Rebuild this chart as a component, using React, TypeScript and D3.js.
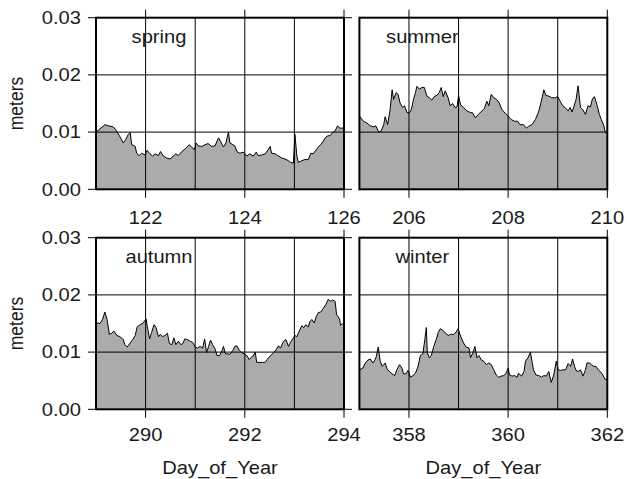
import React from "react";
import * as d3 from "d3";

const seasonNames = ["spring", "summer", "autumn", "winter"];

const springDays = [121.00,121.18,121.25,121.35,121.40,121.47,121.55,121.60,121.65,121.69,121.72,121.79,121.82,121.87,121.92,121.99,122.03,122.09,122.14,122.19,122.26,122.30,122.36,122.42,122.49,122.56,122.61,122.66,122.73,122.79,122.88,122.93,122.98,123.02,123.06,123.13,123.20,123.26,123.33,123.40,123.47,123.51,123.57,123.62,123.67,123.70,123.76,123.80,123.84,123.90,123.97,124.04,124.10,124.17,124.23,124.27,124.34,124.41,124.47,124.51,124.54,124.61,124.68,124.74,124.81,124.88,124.92,124.98,125.01,125.05,125.08,125.15,125.21,125.28,125.33,125.38,125.44,125.49,125.53,125.58,125.62,125.66,125.72,125.77,125.82,125.87,125.91,125.95,126.00];
const springValues = [0.0100,0.0113,0.0111,0.0109,0.0104,0.0094,0.0081,0.0087,0.0096,0.0099,0.0078,0.0075,0.0063,0.0059,0.0063,0.0060,0.0068,0.0062,0.0058,0.0062,0.0059,0.0066,0.0058,0.0055,0.0053,0.0058,0.0062,0.0059,0.0066,0.0070,0.0078,0.0074,0.0069,0.0081,0.0076,0.0075,0.0078,0.0080,0.0075,0.0076,0.0090,0.0084,0.0074,0.0081,0.0100,0.0081,0.0078,0.0076,0.0066,0.0063,0.0065,0.0058,0.0062,0.0058,0.0065,0.0059,0.0060,0.0062,0.0069,0.0075,0.0063,0.0062,0.0058,0.0055,0.0053,0.0050,0.0047,0.0046,0.0096,0.0058,0.0047,0.0050,0.0052,0.0052,0.0063,0.0062,0.0069,0.0075,0.0078,0.0084,0.0090,0.0093,0.0094,0.0099,0.0102,0.0111,0.0107,0.0107,0.0107];

const summerDays = [205.00,205.08,205.15,205.22,205.29,205.33,205.39,205.44,205.49,205.52,205.57,205.62,205.66,205.69,205.74,205.78,205.82,205.87,205.91,205.96,206.01,206.05,206.09,206.13,206.16,206.21,206.26,206.31,206.36,206.41,206.46,206.52,206.56,206.61,206.65,206.69,206.73,206.79,206.83,206.88,206.93,206.97,207.00,207.04,207.10,207.17,207.24,207.28,207.34,207.40,207.47,207.52,207.57,207.61,207.66,207.71,207.77,207.82,207.87,207.94,207.99,208.06,208.13,208.19,208.24,208.31,208.37,208.41,208.48,208.55,208.62,208.67,208.72,208.76,208.82,208.88,208.95,209.00,209.05,209.10,209.15,209.21,209.25,209.29,209.32,209.37,209.41,209.46,209.50,209.56,209.61,209.66,209.70,209.74,209.79,209.84,209.88,209.93,209.96,210.00];
const summerValues = [0.0128,0.0119,0.0116,0.0111,0.0109,0.0111,0.0100,0.0102,0.0113,0.0127,0.0113,0.0140,0.0174,0.0157,0.0169,0.0166,0.0151,0.0143,0.0146,0.0134,0.0134,0.0140,0.0157,0.0169,0.0180,0.0175,0.0178,0.0178,0.0163,0.0160,0.0156,0.0163,0.0164,0.0169,0.0178,0.0162,0.0172,0.0160,0.0146,0.0150,0.0143,0.0144,0.0164,0.0148,0.0143,0.0137,0.0134,0.0134,0.0125,0.0131,0.0137,0.0141,0.0154,0.0146,0.0166,0.0160,0.0157,0.0151,0.0140,0.0133,0.0129,0.0122,0.0119,0.0119,0.0113,0.0113,0.0107,0.0110,0.0113,0.0122,0.0137,0.0154,0.0174,0.0164,0.0163,0.0160,0.0160,0.0162,0.0154,0.0146,0.0143,0.0137,0.0143,0.0135,0.0143,0.0157,0.0181,0.0143,0.0140,0.0131,0.0146,0.0144,0.0158,0.0162,0.0148,0.0131,0.0122,0.0111,0.0100,0.0096];

const autumnDays = [289.00,289.08,289.13,289.18,289.22,289.27,289.32,289.36,289.42,289.48,289.55,289.58,289.63,289.69,289.74,289.79,289.83,289.89,289.95,290.01,290.03,290.08,290.12,290.17,290.21,290.26,290.30,290.34,290.39,290.44,290.48,290.53,290.57,290.61,290.66,290.71,290.75,290.79,290.84,290.90,290.95,291.00,291.04,291.10,291.15,291.19,291.23,291.27,291.31,291.35,291.40,291.44,291.49,291.54,291.57,291.61,291.65,291.70,291.76,291.80,291.84,291.89,291.94,291.99,292.04,292.09,292.14,292.17,292.21,292.24,292.29,292.36,292.41,292.45,292.51,292.58,292.63,292.68,292.72,292.78,292.83,292.88,292.92,292.98,293.01,293.05,293.10,293.15,293.19,293.23,293.28,293.31,293.35,293.40,293.44,293.48,293.53,293.58,293.64,293.68,293.73,293.77,293.82,293.85,293.91,293.93,293.97,294.00];
const autumnValues = [0.0151,0.0150,0.0157,0.0170,0.0158,0.0131,0.0133,0.0137,0.0129,0.0127,0.0122,0.0113,0.0109,0.0116,0.0122,0.0129,0.0144,0.0148,0.0151,0.0158,0.0147,0.0123,0.0134,0.0148,0.0143,0.0127,0.0131,0.0127,0.0129,0.0133,0.0115,0.0113,0.0125,0.0113,0.0119,0.0113,0.0115,0.0123,0.0122,0.0119,0.0117,0.0109,0.0107,0.0110,0.0107,0.0123,0.0099,0.0110,0.0121,0.0113,0.0106,0.0094,0.0094,0.0102,0.0110,0.0097,0.0097,0.0096,0.0103,0.0110,0.0111,0.0103,0.0099,0.0097,0.0094,0.0087,0.0092,0.0093,0.0100,0.0082,0.0082,0.0082,0.0082,0.0087,0.0093,0.0099,0.0104,0.0111,0.0107,0.0119,0.0122,0.0110,0.0117,0.0125,0.0129,0.0127,0.0137,0.0146,0.0143,0.0148,0.0144,0.0153,0.0157,0.0151,0.0162,0.0169,0.0170,0.0176,0.0184,0.0192,0.0189,0.0191,0.0189,0.0166,0.0158,0.0147,0.0150,0.0150];

const winterDays = [357.00,357.07,357.12,357.17,357.22,357.27,357.31,357.34,357.38,357.42,357.46,357.49,357.52,357.56,357.61,357.66,357.71,357.76,357.81,357.86,357.89,357.94,357.98,358.03,358.08,358.13,358.18,358.23,358.28,358.32,358.35,358.37,358.41,358.45,358.50,358.55,358.59,358.63,358.68,358.73,358.79,358.84,358.90,358.95,358.99,359.04,359.10,359.15,359.21,359.24,359.29,359.33,359.37,359.41,359.46,359.51,359.56,359.61,359.66,359.71,359.76,359.81,359.86,359.91,359.96,360.00,360.03,360.08,360.13,360.18,360.21,360.27,360.32,360.35,360.40,360.45,360.48,360.51,360.56,360.62,360.67,360.72,360.77,360.82,360.87,360.92,360.97,361.01,361.06,361.10,361.16,361.21,361.26,361.30,361.34,361.37,361.41,361.46,361.51,361.56,361.59,361.64,361.68,361.73,361.77,361.82,361.86,361.91,361.95,362.00];
const winterValues = [0.0069,0.0072,0.0081,0.0086,0.0088,0.0081,0.0086,0.0092,0.0109,0.0084,0.0075,0.0078,0.0081,0.0070,0.0066,0.0062,0.0059,0.0070,0.0078,0.0072,0.0062,0.0062,0.0068,0.0056,0.0059,0.0063,0.0074,0.0094,0.0097,0.0122,0.0143,0.0099,0.0090,0.0094,0.0110,0.0122,0.0134,0.0141,0.0138,0.0134,0.0129,0.0131,0.0131,0.0135,0.0141,0.0128,0.0116,0.0109,0.0107,0.0090,0.0099,0.0110,0.0090,0.0094,0.0086,0.0084,0.0078,0.0081,0.0078,0.0069,0.0060,0.0056,0.0058,0.0059,0.0063,0.0072,0.0060,0.0058,0.0059,0.0056,0.0063,0.0058,0.0066,0.0084,0.0090,0.0100,0.0084,0.0069,0.0060,0.0059,0.0056,0.0059,0.0058,0.0066,0.0047,0.0060,0.0084,0.0069,0.0068,0.0069,0.0069,0.0080,0.0075,0.0088,0.0075,0.0068,0.0066,0.0069,0.0058,0.0069,0.0081,0.0081,0.0078,0.0075,0.0075,0.0069,0.0066,0.0060,0.0053,0.0052];

const dayDomains = [[121, 126], [205, 210], [289, 294], [357, 362]];
const yTicks = [0, 0.01, 0.02, 0.03];
const yTickLabels = ["0.00", "0.01", "0.02", "0.03"];
const xLabel = "Day_of_Year";
const yLabel = "meters";

const seriesDays = [springDays, summerDays, autumnDays, winterDays];
const seriesValues = [springValues, summerValues, autumnValues, winterValues];

const FONT = "'Liberation Sans', Arial, Helvetica, sans-serif";
const SX = 1.15;
const FS = 17.5;
const TXT = "#1a1a1a";

const cols = [
  { x0: 96, x1: 344 },
  { x0: 359.4, x1: 607.3 },
];
const rows = [
  { y0: 17.7, y1: 189.3, labY: 223.5 },
  { y0: 237.7, y1: 409.3, labY: 441 },
];

function T({ x, y, anchor = "start", rot = false, children }: any) {
  const tf = rot
    ? `translate(${x},${y}) rotate(-90) scale(1,${SX})`
    : `translate(${x},${y}) scale(${SX},1)`;
  return (
    <text transform={tf} textAnchor={anchor} fontSize={FS} fontFamily={FONT} fill={TXT}>
      {children}
    </text>
  );
}

function Panel({ idx }: { idx: number }) {
  const col = cols[idx % 2];
  const row = rows[Math.floor(idx / 2)];
  const dom = dayDomains[idx];
  const x = d3.scaleLinear().domain(dom).range([col.x0, col.x1]);
  const y = d3.scaleLinear().domain([0, 0.03]).range([row.y1, row.y0]);
  const days = seriesDays[idx];
  const vals = seriesValues[idx];
  const n = Math.min(days.length, vals.length);
  const pts: [number, number][] = d3.range(n).map((i) => [days[i], vals[i]]);
  const area = d3
    .area<[number, number]>()
    .x((d) => x(d[0]))
    .y0(y(0))
    .y1((d) => y(d[1]));
  const line = d3
    .line<[number, number]>()
    .x((d) => x(d[0]))
    .y((d) => y(d[1]));
  const gridDays = d3.range(dom[0] + 1, dom[1]);
  const tickDays = d3.range(dom[0] + 1, dom[1] + 1, 2);
  const gridY = [0.01, 0.02];
  const isLeft = idx % 2 === 0;
  const clipId = `clip${idx}`;
  return (
    <g>
      <defs>
        <clipPath id={clipId}>
          <rect x={col.x0} y={row.y0} width={col.x1 - col.x0} height={row.y1 - row.y0} />
        </clipPath>
      </defs>
      <rect x={col.x0} y={row.y0} width={col.x1 - col.x0} height={row.y1 - row.y0} fill="#fff" />
      <g clipPath={`url(#${clipId})`}>
        <path d={area(pts) || ""} fill="#ababab" />
        <path d={line(pts) || ""} fill="none" stroke="#000" strokeWidth={1} strokeLinejoin="round" />
        {gridDays.map((d) => (
          <line key={"gx" + d} x1={x(d)} x2={x(d)} y1={row.y0} y2={row.y1} stroke="#000" strokeWidth={1} />
        ))}
        {gridY.map((v) => (
          <line key={"gy" + v} x1={col.x0} x2={col.x1} y1={y(v)} y2={y(v)} stroke="#000" strokeWidth={1} />
        ))}
      </g>
      <rect x={col.x0} y={row.y0} width={col.x1 - col.x0} height={row.y1 - row.y0} fill="none" stroke="#000" strokeWidth={2} />
      {tickDays.map((d) => (
        <line key={"tt" + d} x1={x(d)} x2={x(d)} y1={row.y0 - 8} y2={row.y0} stroke="#000" strokeWidth={1} />
      ))}
      {tickDays.map((d) => (
        <g key={"bt" + d}>
          <line x1={x(d)} x2={x(d)} y1={row.y1} y2={row.y1 + 8.5} stroke="#000" strokeWidth={1} />
          <T x={x(d)} y={row.labY} anchor="middle">{String(d)}</T>
        </g>
      ))}
      {isLeft &&
        yTicks.map((v, i) => (
          <g key={"yt" + v}>
            <line x1={col.x0 - 8} x2={col.x0} y1={y(v)} y2={y(v)} stroke="#000" strokeWidth={1} />
            <line x1={col.x1} x2={col.x1 + 8} y1={y(v)} y2={y(v)} stroke="#000" strokeWidth={1} />
            <T x={81} y={y(v) + 6.3} anchor="end">{yTickLabels[i]}</T>
          </g>
        ))}
      <T x={col.x0 + 63} y={row.y0 + 25.5} anchor="middle">{seasonNames[idx]}</T>
    </g>
  );
}

export default function App() {
  return (
    <svg
      width={627}
      height={479}
      style={{ position: "absolute", left: 0, top: 0, background: "#fff" }}
    >
      <rect x={0} y={0} width={627} height={479} fill="#fff" />
      {[0, 1, 2, 3].map((i) => (
        <Panel key={i} idx={i} />
      ))}
      {rows.map((r, i) => (
        <T key={"yl" + i} x={22.5} y={(r.y0 + r.y1) / 2} anchor="middle" rot>{yLabel}</T>
      ))}
      {cols.map((c, i) => (
        <T key={"xl" + i} x={(c.x0 + c.x1) / 2} y={474} anchor="middle">{xLabel}</T>
      ))}
    </svg>
  );
}
